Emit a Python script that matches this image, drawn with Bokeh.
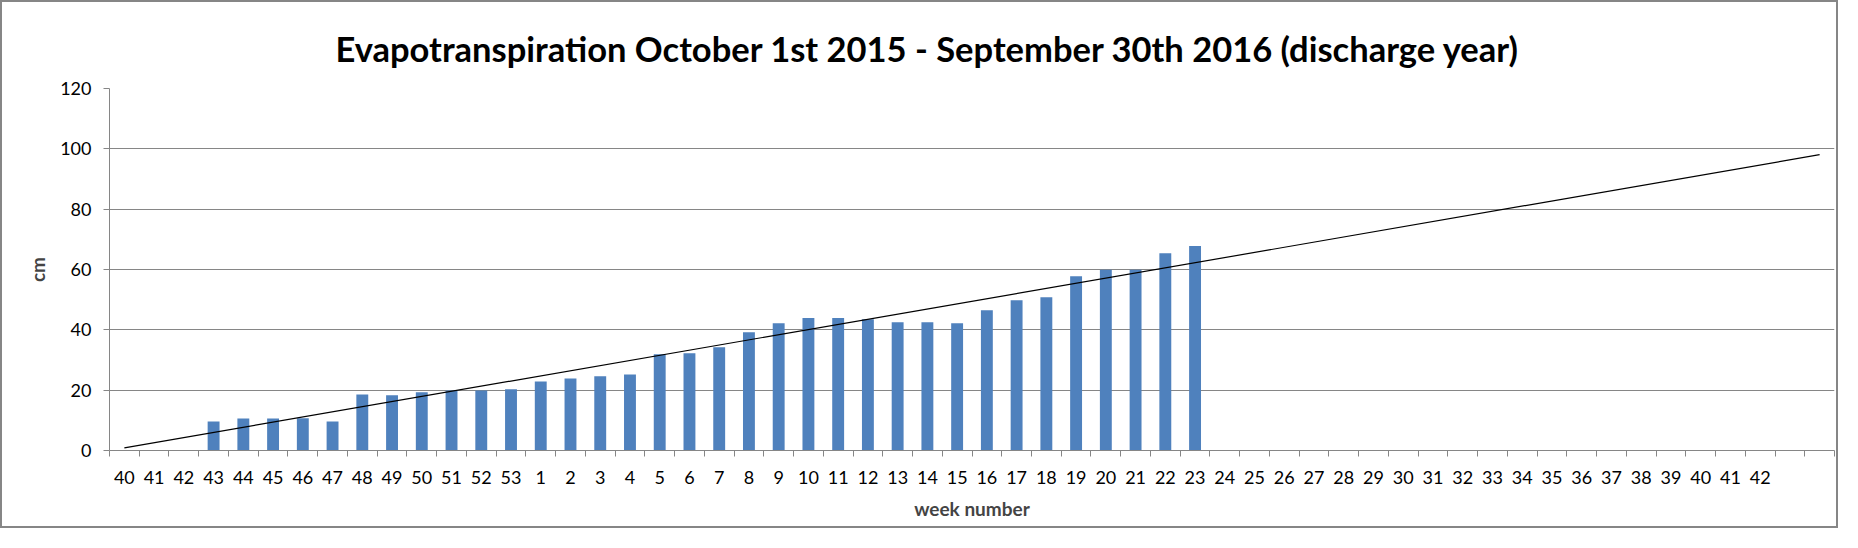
import numpy as np
from bokeh.plotting import figure
from bokeh.models import Range1d, FixedTicker, ColumnDataSource
from bokeh.embed import file_html
from bokeh.resources import INLINE

# ---- data ----
week_labels = ["40", "41", "42", "43", "44", "45", "46", "47", "48", "49", "50", "51", "52", "53",
               "1", "2", "3", "4", "5", "6", "7", "8", "9", "10", "11", "12", "13", "14", "15",
               "16", "17", "18", "19", "20", "21", "22", "23", "24", "25", "26", "27", "28", "29",
               "30", "31", "32", "33", "34", "35", "36", "37", "38", "39", "40", "41", "42", "", ""]
nan = float("nan")
et_cm = [nan, nan, nan, 9.6, 10.6, 10.6, 10.7, 9.6, 18.6, 18.3, 19.3, 19.9, 19.9, 20.3,
         22.9, 23.9, 24.6, 25.2, 31.9, 32.2, 34.2, 39.2, 42.2, 43.9, 43.9, 43.5, 42.5, 42.5, 42.2,
         46.5, 49.8, 50.8, 57.8, 59.9, 59.9, 65.4, 67.8] + [nan] * 21
y_ticks = [0, 20, 40, 60, 80, 100, 120]
title_text = "Evapotranspiration October 1st 2015 - September 30th 2016 (discharge year)"

# ---- derived ----
idx = np.arange(len(week_labels))
vals = np.array(et_cm, dtype=float)
has = ~np.isnan(vals)
bars = ColumnDataSource(dict(x=idx[has], top=vals[has]))
slope, icpt = np.polyfit(idx[has], vals[has], 1)
trend_x = [idx[0], idx[-1]]
trend_y = [icpt + slope * idx[0], icpt + slope * idx[-1]]

W, H = 1838, 528
FONT = "Lato"
GRID = "#868686"

p = figure(width=W, height=H, output_backend="svg", toolbar_location=None,
           x_range=Range1d(-0.5, len(week_labels) - 0.5), y_range=Range1d(0, 120),
           min_border_left=107, min_border_right=6, min_border_top=86, min_border_bottom=80)
p.styles = {"border": "2px solid #868686"}
p.outline_line_color = None
p.background_fill_color = "white"
p.border_fill_color = "white"

p.title.text = title_text
p.title.align = "left"
p.title.offset = 226
p.title.standoff = 39
p.title.text_font = FONT
p.title.text_font_style = "bold"
p.title.text_font_size = "34.5px"
p.title.text_color = "black"

p.vbar(x="x", top="top", width=0.4, source=bars, fill_color="#4F81BD", line_color=None)
p.line(trend_x, trend_y, line_color="black", line_width=1.2)

# x axis: labels at category centres, tick marks at boundaries
xa = p.xaxis[0]
xa.ticker = FixedTicker(ticks=list(idx), minor_ticks=list(np.arange(len(week_labels) + 1) - 0.5))
xa.major_label_overrides = {int(i): lab for i, lab in zip(idx, week_labels)}
xa.major_tick_out = 0
xa.major_tick_in = 0
xa.minor_tick_out = 6
xa.minor_tick_in = 0
xa.minor_tick_line_color = GRID
xa.axis_line_color = GRID
xa.major_label_text_font = FONT
xa.major_label_text_font_size = "18px"
xa.major_label_text_color = "black"
xa.major_label_standoff = 14
xa.axis_label = "week number"
xa.axis_label_text_font = FONT
xa.axis_label_text_font_style = "bold"
xa.axis_label_text_font_size = "19px"
xa.axis_label_standoff = 10

ya = p.yaxis[0]
ya.ticker = FixedTicker(ticks=y_ticks)
ya.major_tick_out = 6
ya.major_tick_in = 0
ya.minor_tick_line_color = None
ya.major_tick_line_color = GRID
ya.axis_line_color = GRID
ya.major_label_text_font = FONT
ya.major_label_text_font_size = "18px"
ya.major_label_text_color = "black"
ya.major_label_standoff = 12
ya.axis_label = "cm"
ya.axis_label_text_font = FONT
ya.axis_label_text_font_style = "bold"
ya.axis_label_text_font_size = "19px"
ya.axis_label_standoff = 8

p.xgrid.grid_line_color = None
p.ygrid.ticker = FixedTicker(ticks=y_ticks)
p.ygrid.grid_line_color = GRID
p.ygrid.grid_line_width = 1

open("out.html", "w").write(file_html(p, INLINE))
